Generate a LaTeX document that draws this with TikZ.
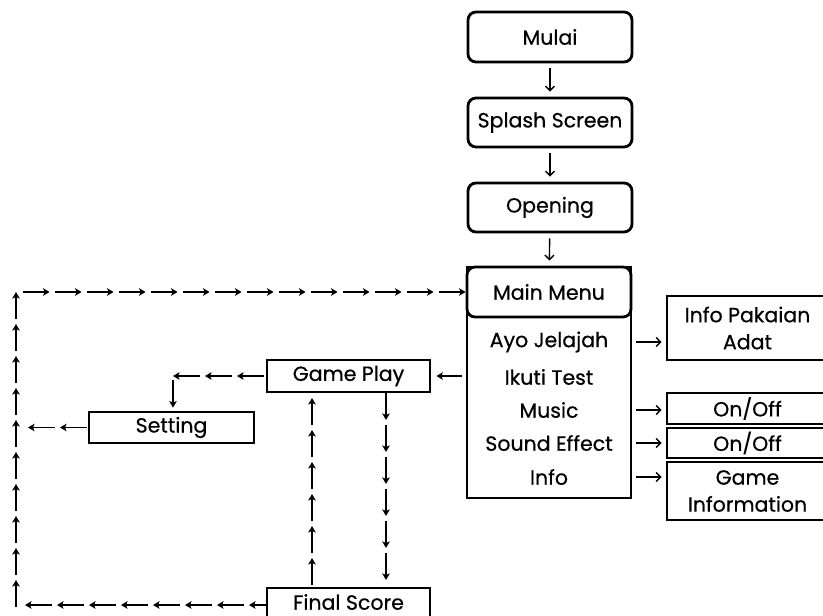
\documentclass[tikz,border=0pt]{standalone}
\usepackage{fontspec}
\setmainfont{Poppins}[FakeBold=0.5]
\usetikzlibrary{arrows.meta,decorations.markings,backgrounds,calc}
\begin{document}
\begin{tikzpicture}[x=1pt,y=-1pt,
  box/.style={draw, line width=2.8pt, fill=white, inner sep=0pt, font=\fontsize{20.5}{27}\selectfont, align=center},
  rbox/.style={box, rounded corners=8pt},
  item/.style={inner sep=0pt, font=\fontsize{20.5}{27}\selectfont},
  arr/.style={line width=1.4pt, -{Straight Barb[length=4.5pt,width=9pt]}},
  sarr/.style={line width=1.7pt, -{Stealth[length=6.5pt,width=7.5pt,inset=1.5pt]}},
  multi/.style={postaction={decorate, decoration={markings,
     mark=between positions 0 and 1 step 32pt with {\draw[line width=1.7pt, {Stealth[length=6.5pt,width=7.5pt,inset=1.5pt]}-] (0,0) -- (27pt,0);}}}}
]
\useasboundingbox (0,0) rectangle (823,616);
% main column
\node[rbox, minimum width=164, minimum height=50] (mulai) at (550,37) {Mulai};
\node[rbox, minimum width=164, minimum height=49] (splash) at (550,122.5) {Splash Screen};
\node[rbox, minimum width=164, minimum height=49] (opening) at (550,207.5) {Opening};
\node[box, minimum width=164, minimum height=231] (body) at (549,382.5) {};
\node[rbox, minimum width=164, minimum height=50] (header) at (549,292) {Main Menu};
\node[item] (ayo) at (549,342) {Ayo Jelajah};
\node[item] (ikuti) at (549,377) {Ikuti Test};
\node[item] (music) at (549,410) {Music};
\node[item] (sound) at (549,443) {Sound Effect};
\node[item] (info) at (549,477) {Info};
% right boxes
\node[box, minimum width=161, minimum height=64] (pakaian) at (747.5,328) {Info Pakaian\\Adat};
\node[box, minimum width=161, minimum height=31] (onoff1) at (747.5,408.5) {On/Off};
\node[box, minimum width=161, minimum height=30] (onoff2) at (747.5,443) {On/Off};
\node[box, minimum width=161, minimum height=58] (gameinfo) at (747.5,491) {Game\\Information};
% left part
\node[box, minimum width=163, minimum height=32] (gp) at (348.5,376) {Game Play};
\node[box, minimum width=165, minimum height=31] (set) at (171.5,427.5) {Setting};
\node[box, minimum width=163, minimum height=34] (fs) at (348.5,605) {};
\node[item] (fstext) at (348.5,602) {Final Score};
\coordinate (TL) at (16,292);
\coordinate (BL) at (16,605);
\coordinate (topend) at (38,292);
\coordinate (botend) at (25,605);
\coordinate (setend) at (28,427.5);
\coordinate (C1) at (173,376);
\coordinate (upT) at (312,398);
\coordinate (dnB) at (386,580);
\coordinate (dnT) at (386,395);
\begin{scope}[on background layer]
\draw[arr, shorten <=5pt, shorten >=5pt] (mulai) -- (splash);
\draw[arr, shorten <=5pt, shorten >=5pt] (splash) -- (opening);
\draw[arr, shorten <=5pt, shorten >=5pt] (opening) -- (header);
\draw[arr, shorten <=4pt, shorten >=4pt] (body.east |- ayo) -- (pakaian.west |- ayo);
\draw[arr, shorten <=4pt, shorten >=4pt] (body.east |- music) -- (onoff1.west |- music);
\draw[arr, shorten <=4pt, shorten >=4pt] (body.east |- sound) -- (onoff2.west |- sound);
\draw[arr, shorten <=4pt, shorten >=4pt] (body.east |- info) -- (gameinfo.west |- info);
\draw[sarr, shorten <=4pt, shorten >=5pt] (body.west |- gp.east) -- (gp.east);
\path[multi] (header.west) -- (topend);
\path[multi] (TL) -- (BL);
\path[multi] (botend) -- (fs.west);
\path[multi] (setend) -- (set.west);
\path[multi] (C1) -- (gp.west);
\draw[sarr, shorten <=4pt, shorten >=3pt] (C1) -- (C1 |- set.north);
\path[multi] (upT) -- (upT |- fs.north);
\path[multi] (dnB) -- (dnT);
\end{scope}
\end{tikzpicture}
\end{document}
